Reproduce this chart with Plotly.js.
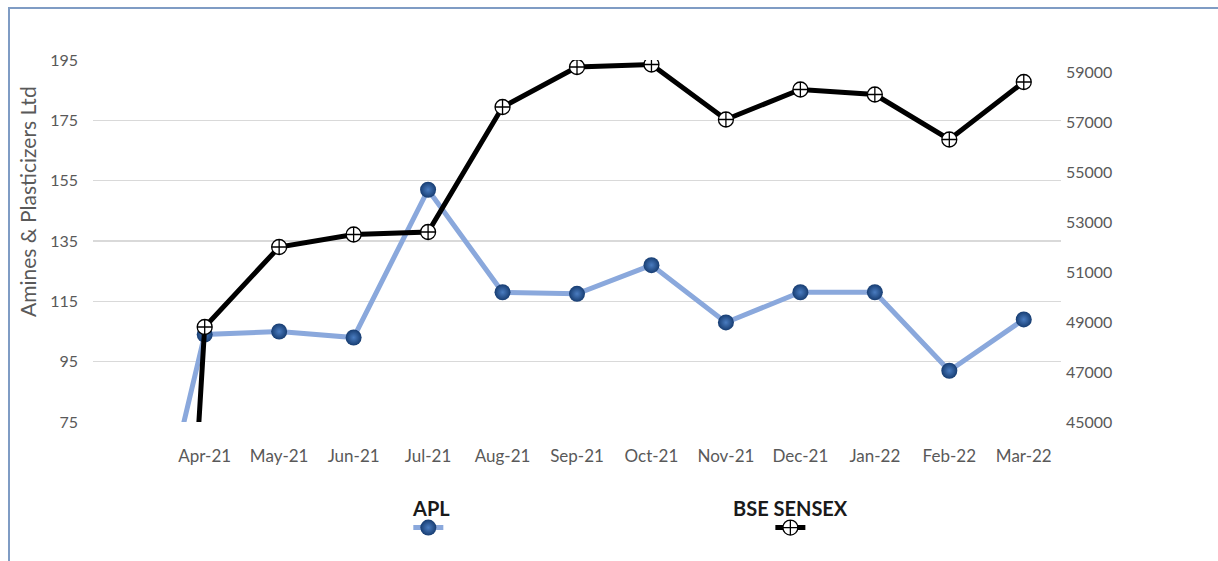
<!DOCTYPE html>
<html>
<head>
<meta charset="utf-8">
<script src="https://cdn.plot.ly/plotly-3.0.1.min.js"></script>
<style>
  body { margin: 0; background: #fff; }
  #myDiv { position: absolute; left: 0; top: 0; width: 1218px; height: 561px; }
  #frame {
    position: absolute; left: 8px; top: 7px; right: 0; bottom: 0;
    border-left: 2px solid #7f9cc4; border-top: 2px solid #7f9cc4;
    pointer-events: none;
  }
</style>
</head>
<body>
<div id="myDiv"></div>
<div id="frame"></div>
<script>
// first category is blank in the source sheet (value 0, runs off the bottom)
var months = [" ", "Apr-21", "May-21", "Jun-21", "Jul-21", "Aug-21", "Sep-21",
              "Oct-21", "Nov-21", "Dec-21", "Jan-22", "Feb-22", "Mar-22"];
var aplPrice = [0, 104, 105, 103, 152, 118, 117.5, 127, 108, 118, 118, 92, 109];
var sensex = [0, 48800, 52000, 52500, 52600, 57600, 59200, 59300, 57100, 58300, 58100, 56300, 58600];

var leftTicks = [75, 95, 115, 135, 155, 175, 195];
var rightTicks = [45000, 47000, 49000, 51000, 53000, 55000, 57000, 59000];

var fam = "Lato, 'Open Sans', sans-serif";
var tickFont = {family: fam, size: 16, color: '#595959'};

/**************************************************************/
function makeTraces() {
  var apl = {
    x: months, y: aplPrice,
    name: '', hovertemplate: 'APL: %{y}<extra></extra>',
    type: 'scatter', mode: 'lines+markers',
    line: {color: '#8aa8dc', width: 5},
    marker: {size: 16, color: '#173d72',
             gradient: {type: 'radial', color: '#4a7cc0'}},
    legend: 'legend'
  };
  var bse = {
    x: months, y: sensex,
    name: '', hovertemplate: 'BSE SENSEX: %{y}<extra></extra>',
    type: 'scatter', mode: 'lines+markers',
    line: {color: '#000000', width: 5},
    marker: {size: 15, symbol: 'circle-cross', color: '#ffffff',
             line: {color: '#000000', width: 1.3}},
    yaxis: 'y2',
    legend: 'legend2'
  };
  return [apl, bse];
}

function getLayout() {
  var p = {
    width: 1218, height: 561,
    margin: {l: 93, r: 157, t: 60, b: 139},
    paper_bgcolor: '#ffffff',
    plot_bgcolor: '#ffffff',
    font: tickFont,
    showlegend: true,
    xaxis: {
      type: 'category',
      range: [-0.5, 12.5],
      showgrid: false, zeroline: false, showline: false,
      ticks: '', ticklabelstandoff: 22,
      tickfont: {family: fam, size: 17, color: '#595959'}
    },
    yaxis: {
      range: [75, 195],
      tickvals: leftTicks,
      showgrid: true, gridcolor: '#d9d9d9', gridwidth: 1.5,
      zeroline: false, showline: false, ticks: '',
      ticklabelstandoff: 14,
      tickfont: tickFont
    },
    yaxis2: {
      overlaying: 'y', side: 'right',
      range: [45000, 59480],
      tickvals: rightTicks, tickformat: 'd',
      showgrid: false, zeroline: false, showline: false, ticks: '',
      ticklabelstandoff: 4,
      tickfont: tickFont
    },
    legend: {
      orientation: 'h', x: 0.349, xanchor: 'center', y: -0.292, yanchor: 'middle',
      bgcolor: 'rgba(0,0,0,0)', itemwidth: 30
    },
    legend2: {
      orientation: 'h', x: 0.723, xanchor: 'center', y: -0.292, yanchor: 'middle',
      bgcolor: 'rgba(0,0,0,0)', itemwidth: 30
    },
    annotations: [
      // left axis title, sits a bit above the plot centre in the original
      {text: 'Amines & Plasticizers Ltd', xref: 'paper', yref: 'paper',
       x: -0.067, y: 0.608, xanchor: 'center', yanchor: 'middle', textangle: -90,
       showarrow: false, font: {family: fam, size: 21, color: '#595959'}},
      {text: '<b>APL</b>', xref: 'paper', yref: 'paper', x: 0.349, y: -0.238,
       xanchor: 'center', yanchor: 'middle', showarrow: false,
       font: {family: fam, size: 20, color: '#1a1a1a'}},
      {text: '<b>BSE SENSEX</b>', xref: 'paper', yref: 'paper', x: 0.721, y: -0.238,
       xanchor: 'center', yanchor: 'middle', showarrow: false,
       font: {family: fam, size: 20, color: '#1a1a1a'}}
    ]
  };
  return p;
}

Plotly.newPlot('myDiv', makeTraces(), getLayout(), {displayModeBar: false, staticPlot: true});
</script>
</body>
</html>
